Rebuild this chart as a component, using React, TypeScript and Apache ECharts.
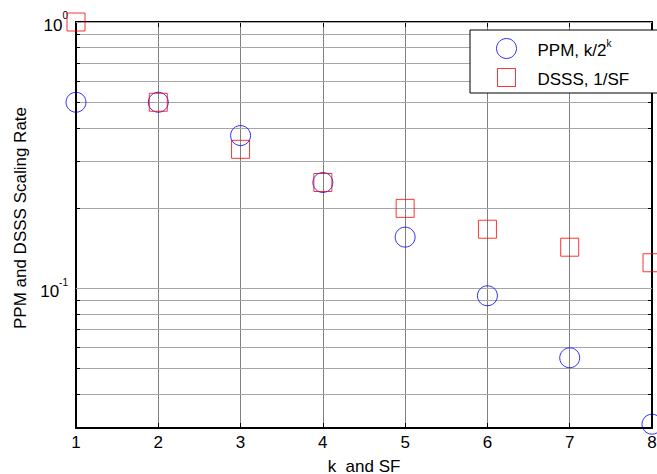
import React, { useEffect, useRef } from "react";
import * as echarts from "echarts";

// ---- data ----
const kValues = [1, 2, 3, 4, 5, 6, 7, 8];
const ppmRates = [0.5, 0.5, 0.375, 0.25, 0.156, 0.094, 0.055, 0.031];
const dsssRates = [1.0, 0.5, 0.333, 0.25, 0.2, 0.167, 0.143, 0.125];
const xTicks = [1, 2, 3, 4, 5, 6, 7, 8];
const yMajorTicks = [1, 0.1];
const yMinorTicks = [0.04, 0.05, 0.06, 0.07, 0.08, 0.09, 0.2, 0.3, 0.4, 0.5, 0.6, 0.7, 0.8, 0.9];
const yTickLabels: Record<string, string> = { "1": "0", "0.1": "-1" };
const ppmName = "PPM, k/2^k";
const dsssName = "DSSS, 1/SF";
const xName = "k  and SF";
const yName = "PPM and DSSS Scaling Rate";

const X_MIN = xTicks[0];
const X_MAX = xTicks[xTicks.length - 1];
const Y_MIN = 0.03;
const Y_MAX = 1;

const FONT = "'Liberation Sans', Arial, Helvetica, sans-serif";

export default function App() {
  const ref = useRef<HTMLDivElement>(null);
  useEffect(() => {
    if (!ref.current) return;
    const chart = echarts.init(ref.current, undefined, { renderer: "svg" });
    const gridValues = [...yMajorTicks, ...yMinorTicks];
    const snap = (v: number) => Math.round(v - 0.5) + 0.5;
    const axisLineStyle = { color: "#000", width: 2 };
    const option: any = {
      animation: false,
      textStyle: { fontFamily: FONT },
      grid: { left: 76, right: 5, top: 22, bottom: 46, containLabel: false, outerBoundsMode: "none" },
      xAxis: [
        {
          type: "value",
          min: X_MIN,
          max: X_MAX,
          interval: 1,
          position: "bottom",
          axisLine: { show: true, lineStyle: axisLineStyle },
          axisTick: { show: true, inside: true, length: 5, lineStyle: { color: "#000" } },
          axisLabel: { color: "#000", fontSize: 17, fontFamily: FONT, margin: 6 },
          splitLine: { show: true, lineStyle: { color: "#808080", width: 1 } },
          name: xName,
          nameLocation: "middle",
          nameGap: 30,
          nameTextStyle: { color: "#000", fontSize: 17, fontFamily: FONT },
        },
        {
          type: "value",
          min: X_MIN,
          max: X_MAX,
          interval: 1,
          position: "top",
          axisLine: { show: true, lineStyle: axisLineStyle },
          axisTick: { show: true, inside: true, length: 5, lineStyle: { color: "#000" } },
          axisLabel: { show: false },
          splitLine: { show: false },
        },
      ],
      yAxis: [
        {
          type: "log",
          logBase: 10,
          min: Y_MIN,
          max: Y_MAX,
          position: "left",
          axisLine: { show: true, lineStyle: axisLineStyle },
          axisTick: { show: true, inside: true, length: 6, lineStyle: { color: "#000" } },
          splitLine: { show: false },
          axisLabel: {
            color: "#000",
            margin: 8,
            formatter: (v: number) => {
              for (const key of Object.keys(yTickLabels)) {
                if (Math.abs(v - Number(key)) < 1e-9) return `{b|10}{s|${yTickLabels[key]}}`;
              }
              return "";
            },
            rich: {
              b: { fontSize: 17, fontFamily: FONT, color: "#000", lineHeight: 23, verticalAlign: "bottom" },
              s: { fontSize: 10, fontFamily: FONT, color: "#000", lineHeight: 10, verticalAlign: "top" },
            },
          },
          name: yName,
          nameLocation: "middle",
          nameRotate: 90,
          nameGap: 47,
          nameTextStyle: { color: "#000", fontSize: 17, fontFamily: FONT, padding: [0, 0, 0, 14] },
        },
        {
          type: "log",
          logBase: 10,
          min: Y_MIN,
          max: Y_MAX,
          position: "right",
          axisLine: { show: true, lineStyle: axisLineStyle },
          axisTick: { show: true, inside: true, length: 6, lineStyle: { color: "#000" } },
          axisLabel: { show: false },
          splitLine: { show: false },
        },
      ],
      legend: {
        orient: "vertical",
        left: 470,
        top: 30,
        padding: [8, 29, 5, 26],
        itemGap: 8,
        itemWidth: 20,
        itemHeight: 20,
        backgroundColor: "#fff",
        borderColor: "#000",
        borderWidth: 1,
        borderRadius: 0,
        selectedMode: false,
        itemStyle: { borderWidth: 1 },
        data: [
          {
            name: ppmName,
            icon: "circle",
            itemStyle: { color: "rgba(0,0,0,0)", borderColor: "#0000ff", borderWidth: 1 },
          },
          {
            name: dsssName,
            icon: "path://M0,0M1,1L19,1L19,19L1,19ZM20,20",
            itemStyle: { color: "rgba(0,0,0,0)", borderColor: "#ff0000", borderWidth: 1 },
          },
        ],
        formatter: (name: string) => {
          const idx = name.indexOf("^");
          if (idx >= 0) return `{n|${name.slice(0, idx)}}{s|${name.slice(idx + 1)}}`;
          return `{n|${name}}`;
        },
        textStyle: {
          fontSize: 17,
          fontFamily: FONT,
          color: "#000",
          padding: [0, 0, 0, 16],
          rich: {
            n: { fontSize: 17, fontFamily: FONT, color: "#000", lineHeight: 20, verticalAlign: "bottom" },
            s: { fontSize: 10, fontFamily: FONT, color: "#000", lineHeight: 10, verticalAlign: "top" },
          },
        },
      },
      series: [
        {
          type: "custom",
          name: "grid",
          silent: true,
          z: 1,
          xAxisIndex: 0,
          yAxisIndex: 0,
          data: gridValues.map((v) => [X_MIN, v]),
          renderItem: (params: any, api: any) => {
            const v = api.value(1);
            const p0 = api.coord([X_MIN, v]);
            const p1 = api.coord([X_MAX, v]);
            const y = snap(p0[1]);
            const isMajor = yMajorTicks.some((m) => Math.abs(m - v) < 1e-9);
            const children: any[] = [
              {
                type: "line",
                shape: { x1: p0[0], y1: y, x2: p1[0], y2: y },
                style: { stroke: "#a6a6a6", lineWidth: 1 },
              },
            ];
            if (!isMajor) {
              children.push(
                { type: "line", shape: { x1: p0[0], y1: y, x2: p0[0] + 4, y2: y }, style: { stroke: "#000", lineWidth: 1 } },
                { type: "line", shape: { x1: p1[0] - 4, y1: y, x2: p1[0], y2: y }, style: { stroke: "#000", lineWidth: 1 } }
              );
            }
            return { type: "group", children };
          },
        },
        {
          type: "scatter",
          name: ppmName,
          xAxisIndex: 0,
          yAxisIndex: 0,
          clip: false,
          z: 5,
          symbol: "circle",
          symbolSize: 20,
          itemStyle: { color: "rgba(0,0,0,0)", borderColor: "#0000ff", borderWidth: 1 },
          data: kValues.map((k, i) => [k, ppmRates[i]]),
        },
        {
          type: "scatter",
          name: dsssName,
          xAxisIndex: 0,
          yAxisIndex: 0,
          clip: false,
          z: 5,
          symbol: "rect",
          symbolSize: 18,
          itemStyle: { color: "rgba(0,0,0,0)", borderColor: "#ff0000", borderWidth: 1 },
          data: kValues.map((k, i) => [k, dsssRates[i]]),
        },
      ],
    };
    chart.setOption(option);
    return () => chart.dispose();
  }, []);
  return (
    <div
      ref={ref}
      style={{ position: "fixed", left: 0, top: 0, width: 657, height: 474, background: "#fff" }}
    />
  );
}
